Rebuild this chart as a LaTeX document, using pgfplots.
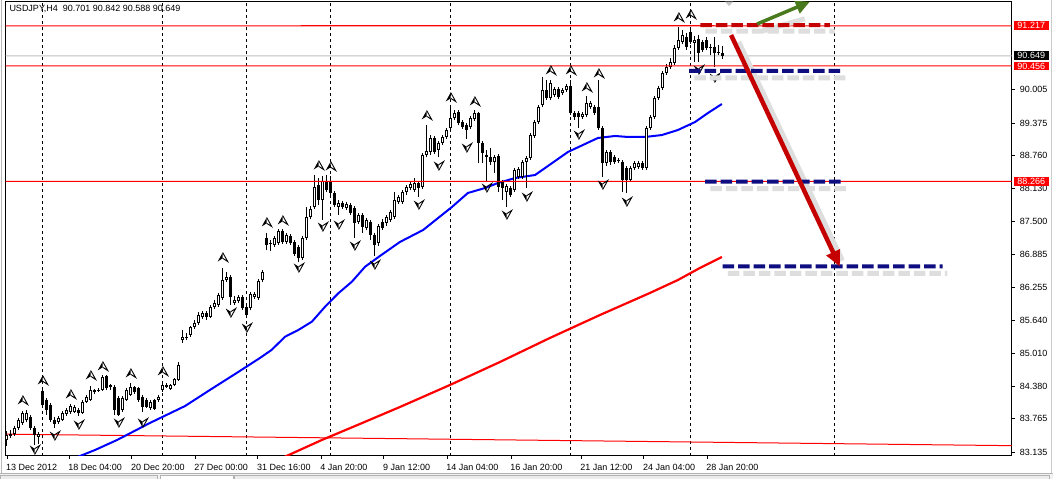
\documentclass[border=0pt]{standalone}
\usepackage{fontspec}
\setmainfont{Liberation Sans}
\usepackage{pgfplots}
\usepackage{pgfplotstable}
\pgfplotsset{compat=1.18}
\usetikzlibrary{arrows.meta}

\definecolor{bidgray}{RGB}{192,192,192}
\definecolor{mtred}{RGB}{255,0,0}
\definecolor{dashred}{RGB}{196,0,0}
\definecolor{navy}{RGB}{14,14,128}
\definecolor{arrgreen}{RGB}{74,122,30}
\definecolor{shadowgray}{RGB}{222,222,222}

% fractal arrows
\pgfdeclareplotmark{fup}{%
  \pgfpathmoveto{\pgfqpoint{-5pt}{-4.5pt}}%
  \pgfpathlineto{\pgfqpoint{0pt}{4.5pt}}%
  \pgfpathlineto{\pgfqpoint{0pt}{-1.3pt}}%
  \pgfpathclose\pgfusepath{fill}%
  \pgfsetlinewidth{0.9pt}%
  \pgfpathmoveto{\pgfqpoint{0pt}{4.5pt}}%
  \pgfpathlineto{\pgfqpoint{5pt}{-4.5pt}}%
  \pgfpathlineto{\pgfqpoint{0pt}{-1.3pt}}%
  \pgfusepath{stroke}}
\pgfdeclareplotmark{fdn}{%
  \pgfpathmoveto{\pgfqpoint{-5pt}{4.5pt}}%
  \pgfpathlineto{\pgfqpoint{0pt}{-4.5pt}}%
  \pgfpathlineto{\pgfqpoint{0pt}{1.3pt}}%
  \pgfpathclose\pgfusepath{fill}%
  \pgfsetlinewidth{0.9pt}%
  \pgfpathmoveto{\pgfqpoint{0pt}{-4.5pt}}%
  \pgfpathlineto{\pgfqpoint{5pt}{4.5pt}}%
  \pgfpathlineto{\pgfqpoint{0pt}{1.3pt}}%
  \pgfusepath{stroke}}

% USDJPY H4 bars: index, open, high, low, close
\pgfplotstableread{
k o h l c
0 83.364 83.534 83.250 83.458
1 83.439 83.553 83.401 83.477
2 83.477 83.629 83.439 83.591
3 83.591 83.780 83.553 83.743
4 83.686 83.913 83.648 83.875
5 83.743 83.932 83.705 83.875
6 83.799 83.837 83.553 83.591
7 83.591 83.629 83.269 83.458
8 83.420 83.515 83.288 83.477
9 84.293 84.331 83.989 84.027
10 84.122 84.160 83.837 83.932
11 84.027 84.065 83.705 83.743
12 83.743 83.799 83.591 83.667
13 83.705 83.818 83.667 83.780
14 83.743 83.913 83.724 83.875
15 83.856 83.970 83.818 83.932
16 83.894 84.046 83.856 84.008
17 83.894 84.027 83.875 83.989
18 83.932 83.970 83.818 83.875
19 83.875 84.122 83.856 84.084
20 84.084 84.217 84.065 84.179
21 84.122 84.388 84.103 84.312
22 84.312 84.331 84.236 84.274
23 84.293 84.350 84.274 84.312
24 84.312 84.596 84.293 84.558
25 84.577 84.596 84.312 84.350
26 84.406 84.425 84.312 84.369
27 84.369 84.406 83.837 83.932
28 84.160 84.198 83.818 83.837
29 83.932 84.198 83.894 84.160
30 84.122 84.350 84.103 84.312
31 84.217 84.444 84.198 84.369
32 84.369 84.388 84.236 84.274
33 84.350 84.369 84.084 84.122
34 84.179 84.217 83.894 83.989
35 84.122 84.160 83.970 83.989
36 83.970 84.122 83.932 84.084
37 84.122 84.141 83.932 83.951
38 84.122 84.217 84.084 84.179
39 84.312 84.444 84.274 84.406
40 84.369 84.444 84.350 84.406
41 84.331 84.425 84.312 84.406
42 84.406 84.539 84.388 84.520
43 84.501 84.842 84.482 84.785
44 85.260 85.449 85.203 85.317
45 85.298 85.392 85.260 85.317
46 85.354 85.525 85.317 85.506
47 85.506 85.639 85.468 85.582
48 85.582 85.790 85.544 85.733
49 85.696 85.809 85.658 85.771
50 85.771 85.809 85.639 85.696
51 85.696 85.923 85.677 85.885
52 85.885 86.018 85.847 85.961
53 85.923 86.151 85.885 86.113
54 86.056 86.625 86.018 86.397
55 86.397 86.549 86.359 86.454
56 86.454 86.492 85.923 86.075
57 85.961 86.094 85.923 86.018
58 85.999 86.113 85.961 86.075
59 86.075 86.113 85.828 85.866
60 85.885 85.923 85.677 85.733
61 85.866 86.170 85.828 86.132
62 86.075 86.170 86.037 86.132
63 86.056 86.416 86.018 86.378
64 86.397 86.587 86.359 86.549
65 87.194 87.288 86.966 87.061
66 87.099 87.156 86.947 87.080
67 87.061 87.232 87.023 87.194
68 87.099 87.364 87.061 87.326
69 87.326 87.364 87.080 87.118
70 87.118 87.288 87.080 87.250
71 87.232 87.269 87.061 87.099
72 87.118 87.156 86.852 86.890
73 87.023 87.061 86.738 86.814
74 86.814 87.232 86.776 87.194
75 87.194 87.781 87.156 87.592
76 87.592 87.800 87.554 87.743
77 87.781 88.388 87.743 88.161
78 88.198 88.331 87.819 87.914
79 87.914 88.369 87.535 88.274
80 88.274 88.388 88.066 88.104
81 88.255 88.369 88.009 88.047
82 88.047 88.085 87.781 87.819
83 87.781 87.914 87.630 87.857
84 87.857 87.895 87.743 87.781
85 87.762 87.876 87.724 87.838
86 87.819 87.857 87.630 87.667
87 87.762 87.800 87.194 87.478
88 87.497 87.667 87.459 87.630
89 87.630 87.667 87.288 87.402
90 87.383 87.573 87.345 87.535
91 87.497 87.535 87.156 87.250
92 87.250 87.288 86.852 87.061
93 87.099 87.459 87.042 87.421
94 87.497 87.554 87.345 87.383
95 87.478 87.630 87.421 87.592
96 87.535 87.724 87.497 87.686
97 87.592 88.066 87.554 87.914
98 87.876 88.009 87.838 87.971
99 87.876 88.104 87.838 88.066
100 88.066 88.198 88.009 88.161
101 88.142 88.255 88.104 88.217
102 88.104 88.331 88.066 88.236
103 88.236 88.274 87.971 88.142
104 88.161 88.805 88.123 88.767
105 88.767 89.336 88.729 88.843
106 88.824 89.146 88.767 89.090
107 89.090 89.128 88.786 88.824
108 88.862 89.033 88.729 88.995
109 88.995 89.146 88.957 89.109
110 89.109 89.279 89.071 89.241
111 89.279 89.658 89.241 89.469
112 89.469 89.620 89.431 89.563
113 89.582 89.620 89.336 89.374
114 89.393 89.431 89.260 89.298
115 89.336 89.374 89.071 89.241
116 89.298 89.507 89.260 89.469
117 89.450 89.620 89.412 89.563
118 89.563 89.582 88.615 88.995
119 88.995 89.033 88.615 88.805
120 88.767 88.862 88.255 88.729
121 88.729 88.900 88.577 88.634
122 88.634 88.767 88.426 88.729
123 88.748 88.786 88.066 88.161
124 88.255 88.293 87.914 88.142
125 88.066 88.217 87.781 88.179
126 88.142 88.179 87.971 88.009
127 88.104 88.521 88.066 88.483
128 88.350 88.540 88.312 88.502
129 88.350 88.672 88.312 88.634
130 88.634 88.748 88.142 88.710
131 88.710 89.184 88.672 89.146
132 89.128 89.431 89.090 89.393
133 89.393 89.715 89.355 89.677
134 89.715 90.246 89.677 90.000
135 90.000 90.189 89.810 89.848
136 89.848 90.189 89.810 90.132
137 89.905 90.057 89.867 90.019
138 90.019 90.057 89.829 89.867
139 89.943 90.038 89.905 90.000
140 90.000 90.113 89.962 90.076
141 90.076 90.189 89.526 89.563
142 89.563 89.601 89.431 89.488
143 89.563 89.601 89.279 89.488
144 89.488 89.582 89.450 89.544
145 89.525 89.886 89.488 89.753
146 89.677 89.791 89.639 89.753
147 89.677 89.715 89.525 89.563
148 89.677 90.189 89.241 89.279
149 89.279 89.317 88.350 88.615
150 88.615 88.862 88.559 88.824
151 88.824 88.862 88.577 88.634
152 88.729 88.767 88.596 88.634
153 88.672 88.710 88.615 88.653
154 88.634 88.672 88.066 88.293
155 88.521 88.559 88.047 88.293
156 88.293 88.559 88.255 88.521
157 88.521 88.653 88.483 88.615
158 88.540 88.653 88.502 88.615
159 88.615 88.653 88.483 88.521
160 88.521 89.317 88.483 89.279
161 89.279 89.525 89.241 89.488
162 89.488 89.886 89.450 89.848
163 89.848 90.076 89.810 90.038
164 90.038 90.360 90.000 90.322
165 90.322 90.493 90.284 90.436
166 90.436 90.606 90.398 90.530
167 90.511 90.853 90.474 90.796
168 90.796 91.194 90.758 90.948
169 90.910 91.137 90.872 91.042
170 91.004 91.080 90.758 90.815
171 91.099 91.194 90.872 90.910
172 90.891 91.023 90.530 90.948
173 90.967 91.042 90.530 90.701
174 90.910 90.948 90.720 90.758
175 90.948 91.004 90.758 90.796
176 90.815 90.872 90.663 90.796
177 90.815 91.004 90.436 90.701
178 90.720 90.853 90.663 90.701
179 90.701 90.842 90.588 90.649
}\bars

\pgfplotstableread{
k p
4 84.122
9 84.501
16 84.236
21 84.596
24 84.767
31 84.634
39 84.672
54 86.833
65 87.497
69 87.535
78 88.577
81 88.559
105 89.526
111 89.867
117 89.791
136 90.379
141 90.379
145 90.057
148 90.322
168 91.384
171 91.441
}\fracup

\pgfplotstableread{
k p
7 83.174
12 83.439
18 83.648
28 83.686
34 83.686
56 85.771
60 85.487
73 86.625
79 87.402
83 87.440
87 87.042
92 86.681
103 87.819
108 88.559
115 88.900
120 88.142
125 87.630
130 87.971
143 89.146
149 88.198
155 87.876
173 90.379
177 90.227
}\fracdn

% fast moving average (blue)
\pgfplotstableread{
k p
15.8 82.984
22.1 83.174
27.6 83.364
35.8 83.686
44.6 84.008
50.8 84.312
57.1 84.615
63.3 84.918
66.2 85.070
69.6 85.322
72.9 85.449
76.3 85.607
79.6 85.891
82.9 86.145
86.3 86.365
89.6 86.649
93.3 86.852
98.3 87.118
104.1 87.345
111.3 87.781
115.3 88.047
119.6 88.142
122.8 88.236
127.1 88.331
132.1 88.388
134.6 88.521
140.3 88.824
147.8 89.090
152.1 89.128
155.3 89.109
159.6 89.109
163.8 89.146
167.8 89.241
172.1 89.393
175.3 89.563
178.8 89.734
}\mafast

% slow moving average (red)
\pgfplotstableread{
k p
68.3 83.003
78.8 83.364
88.3 83.667
98.3 83.989
110.8 84.406
123.3 84.842
135.8 85.298
148.3 85.733
160.8 86.151
167.8 86.397
173.3 86.625
178.8 86.833
}\maslow

\begin{document}
\begin{tikzpicture}[font=\fontsize{9}{10}\selectfont]
\path[use as bounding box] (-5.5pt,-23pt) rectangle (1047.5pt,456pt);
\fill[white] (-5.5pt,-23pt) rectangle (1047.5pt,456pt);
% window frame and tabs
\fill[gray!10] (-5.5pt,-23pt) rectangle (1047.5pt,-17.5pt);
\draw[gray!60, line width=1pt] (-5.5pt,-17.5pt) -- (1047.5pt,-17.5pt);
\draw[gray!55, line width=1pt] (-3.8pt,456pt) -- (-3.8pt,-17.5pt);
\draw[gray!40, line width=1pt] (1045.5pt,456pt) -- (1045.5pt,-17.5pt);
\draw[gray!60, fill=gray!15] (-5pt,-24pt) rectangle (152pt,-19.5pt);
\draw[gray!60, fill=white] (154.5pt,-24pt) rectangle (227.5pt,-19.5pt);
\draw[gray!60, fill=gray!15] (228.5pt,-24pt) rectangle (1044pt,-19.5pt);

\begin{axis}[
  anchor=south west, at={(0pt,0pt)},
  scale only axis, width=1006.2pt, height=454.3pt,
  xmin=-0.3, xmax=251.25, ymin=83.060, ymax=91.674,
  axis line style={black, line width=1pt},
  tick align=outside, major tick length=3pt,
  tick style={black, line width=0.8pt},
  xtick pos=left, ytick pos=right, yticklabel pos=right,
  xtick={0.08,15.6,31.3,47.1,62.8,78.6,94.3,110.1,126.1,143.6,159.3,175.1},
  xticklabels={13 Dec 2012,18 Dec 04:00,20 Dec 20:00,27 Dec 00:00,31 Dec 16:00,4 Jan 20:00,9 Jan 12:00,14 Jan 04:00,16 Jan 20:00,21 Jan 12:00,24 Jan 04:00,28 Jan 20:00},
  ytick={83.135,83.765,84.380,85.010,85.640,86.255,86.885,87.500,88.130,88.760,89.375,90.005},
  yticklabels={83.135,83.765,84.380,85.010,85.640,86.255,86.885,87.500,88.130,88.760,89.375,90.005},
  tick label style={font=\fontsize{9}{10}\selectfont},
  xticklabel style={anchor=north west, inner sep=0pt, xshift=-1pt, yshift=-5pt},
  yticklabel style={anchor=west, inner sep=0pt, xshift=5pt},
  extra x ticks={9,39,60,81,111,141,171,206.9},
  extra x tick labels={},
  extra x tick style={xmajorgrids=true, major tick length=0pt,
    major grid style={black, line width=0.8pt, dash pattern=on 3pt off 3pt}},
  clip mode=individual,
]
% bid line and trend line
\addplot[draw=bidgray, line width=1pt] coordinates {(-0.3,90.649) (125,90.6491) (251.25,90.649)};
\addplot[draw=mtred, line width=1pt] coordinates {(-0.3,83.474) (251.25,83.256)};

% moving averages
\addplot[draw=mtred, line width=2.2pt] table[x=k, y=p] {\maslow};
\addplot[draw=blue, line width=2pt] table[x=k, y=p] {\mafast};

% candles: wicks, bodies, white fill of rising bars
\addplot[draw=none, mark=none, error bars/.cd, y dir=minus, y explicit,
  error mark=none, error bar style={draw=black, line width=1pt}]
  table[x=k, y=h, y error expr=\thisrow{h}-\thisrow{l}] {\bars};
\addplot[draw=none, mark=none, error bars/.cd, y dir=minus, y explicit,
  error mark=none, error bar style={draw=black, line width=3pt}]
  table[x=k, y expr={max(\thisrow{o},\thisrow{c})},
        y error expr={abs(\thisrow{o}-\thisrow{c})}] {\bars};
\addplot[draw=none, mark=none, error bars/.cd, y dir=minus, y explicit,
  error mark=none, error bar style={draw=white, line width=1pt}]
  table[x=k, y expr={\thisrow{c}-0.019},
        y error expr={max(\thisrow{c}-\thisrow{o}-0.038,0)}] {\bars};

% support / resistance levels (middle point keeps the path from being flat)
\addplot[draw=mtred, line width=1.1pt] coordinates {(-0.3,91.217) (125,91.2171) (251.25,91.217)};
\addplot[draw=mtred, line width=1.1pt] coordinates {(-0.3,90.456) (125,90.4561) (251.25,90.456)};
\addplot[draw=mtred, line width=1.1pt] coordinates {(-0.3,88.266) (125,88.2661) (251.25,88.266)};

% fractals
\addplot[only marks, mark=fup, black] table[x=k, y=p] {\fracup};
\addplot[only marks, mark=fdn, black] table[x=k, y=p] {\fracdn};

% drawn levels: shadows first
\addplot[draw=shadowgray, line width=5pt, dash pattern=on 11.5pt off 4pt] coordinates {(174.7,91.118) (207.0,91.1181)};
\addplot[draw=shadowgray, line width=5pt, dash pattern=on 11.5pt off 4pt] coordinates {(171.9,90.231) (210.0,90.2311)};
\addplot[draw=shadowgray, line width=5pt, dash pattern=on 11.5pt off 4pt] coordinates {(175.9,88.128) (210.5,88.1281)};
\addplot[draw=shadowgray, line width=5pt, dash pattern=on 11.5pt off 4pt] coordinates {(180.3,86.524) (235.2,86.5241)};
\addplot[draw=shadowgray, line width=6pt] coordinates {(182.9,90.909) (208.8,86.760)};
\addplot[draw=shadowgray, line width=5pt] coordinates {(188.9,91.118) (199.5,91.350)};

\addplot[draw=dashred, line width=4pt, dash pattern=on 11.5pt off 4pt] coordinates {(173.4,91.232) (205.8,91.2321)};
\addplot[draw=navy, line width=4pt, dash pattern=on 11.5pt off 4pt] coordinates {(170.6,90.364) (208.8,90.3641)};
\addplot[draw=navy, line width=4pt, dash pattern=on 11.5pt off 4pt] coordinates {(174.6,88.261) (209.3,88.2611)};
\addplot[draw=navy, line width=4pt, dash pattern=on 11.5pt off 4pt] coordinates {(179.0,86.657) (234.0,86.6571)};
\addplot[draw=dashred, fill=dashred, line width=4.5pt, -{Triangle[length=16pt,width=14pt]}] coordinates {(181.1,91.042) (208.3,86.649)};
\addplot[draw=arrgreen, fill=arrgreen, line width=3.5pt, -{Triangle[length=14pt,width=13pt]}] coordinates {(187.6,91.251) (200.8,91.674)};
\addplot[fill=gray!45, draw=none] coordinates {(179.6,91.674) (181.6,91.674) (180.6,91.590)} -- cycle;

\coordinate (b1) at (axis cs:251.25,91.217);
\coordinate (b2) at (axis cs:251.25,90.649);
\coordinate (b3) at (axis cs:251.25,90.456);
\coordinate (b4) at (axis cs:251.25,88.266);
\node[anchor=north west, inner sep=0pt] at (rel axis cs:0,1) [xshift=3.8pt, yshift=-3.3pt]
  {USDJPY,H4\hspace{5pt}90.701 90.842 90.588 90.649};
\end{axis}
\tikzset{pbox/.style={anchor=west, text=white, inner xsep=3.5pt, inner ysep=1.2pt, outer sep=0pt, xshift=2.3pt}}
\node[pbox, fill=mtred] at (b1) {91.217};
\node[pbox, fill=black] at (b2) {90.649};
\node[pbox, fill=mtred] at (b3) {90.456};
\node[pbox, fill=mtred] at (b4) {88.266};
\end{tikzpicture}
\end{document}
